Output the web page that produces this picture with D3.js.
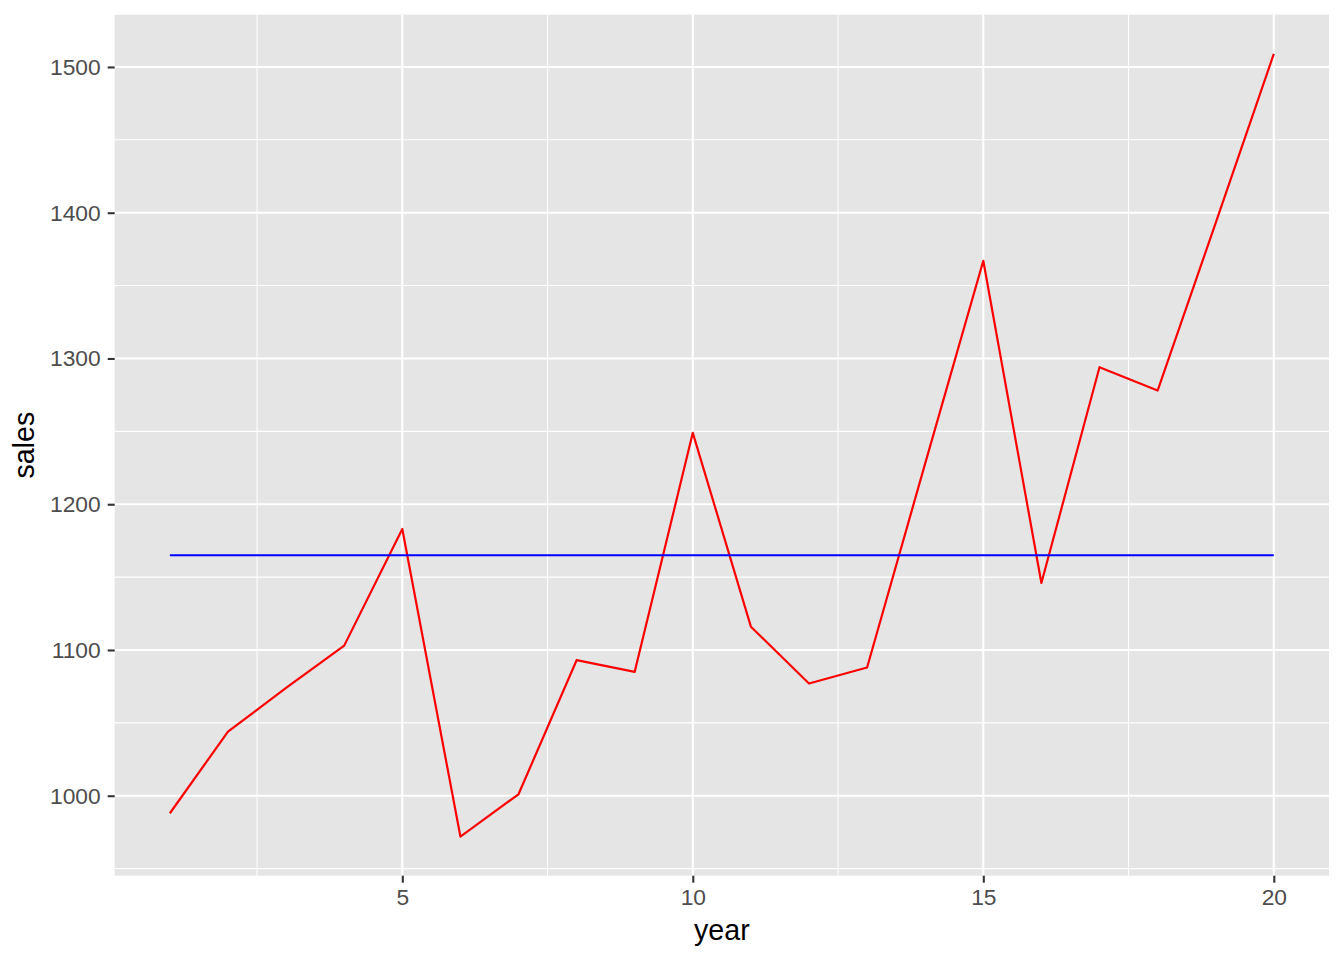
<!DOCTYPE html>
<html>
<head>
<meta charset="utf-8">
<script src="https://cdn.jsdelivr.net/npm/d3@7"></script>
<style>
  html, body { margin: 0; padding: 0; background: #fff; }
  svg { display: block; font-family: "Liberation Sans", Arial, Helvetica, sans-serif; }
</style>
</head>
<body>
<svg id="chart" width="1344" height="960"></svg>
<script>
// ---- data ----
const years = [1, 2, 3, 4, 5, 6, 7, 8, 9, 10, 11, 12, 13, 14, 15, 16, 17, 18, 19, 20];
const sales = [988, 1044, 1074, 1103, 1183, 972, 1001, 1093, 1085, 1249,
               1116, 1077, 1088, 1228, 1367, 1146, 1294, 1278, 1393, 1509];
const meanSales = 1165;
const xTicks = [5, 10, 15, 20];
const xMinor = [2.5, 7.5, 12.5, 17.5];
const yTicks = [1000, 1100, 1200, 1300, 1400, 1500];
const yMinor = [950, 1050, 1150, 1250, 1350, 1450];
const xLabel = "year";
const yLabel = "sales";

// ---- layout ----
const panel = { left: 114.7, right: 1329, top: 14.7, bottom: 875.7 };
const svg = d3.select("#chart");

const xExt = d3.extent(years);
const xPad = (xExt[1] - xExt[0]) * 0.05;
const x = d3.scaleLinear().domain([xExt[0] - xPad, xExt[1] + xPad]).range([panel.left, panel.right]);
const yExt = d3.extent(sales);
const yPad = (yExt[1] - yExt[0]) * 0.05;
const y = d3.scaleLinear().domain([yExt[0] - yPad, yExt[1] + yPad]).range([panel.bottom, panel.top]);

// panel background
svg.append("rect")
  .attr("x", panel.left).attr("y", panel.top)
  .attr("width", panel.right - panel.left).attr("height", panel.bottom - panel.top)
  .attr("fill", "#E5E5E5");

const grid = svg.append("g");
// minor grid
grid.selectAll(".ymin").data(yMinor).enter().append("line")
  .attr("x1", panel.left).attr("x2", panel.right)
  .attr("y1", d => y(d)).attr("y2", d => y(d))
  .attr("stroke", "#fff").attr("stroke-width", 1.05);
grid.selectAll(".xmin").data(xMinor).enter().append("line")
  .attr("y1", panel.top).attr("y2", panel.bottom)
  .attr("x1", d => x(d)).attr("x2", d => x(d))
  .attr("stroke", "#fff").attr("stroke-width", 1.05);
// major grid
grid.selectAll(".ymaj").data(yTicks).enter().append("line")
  .attr("x1", panel.left).attr("x2", panel.right)
  .attr("y1", d => y(d)).attr("y2", d => y(d))
  .attr("stroke", "#fff").attr("stroke-width", 2.1);
grid.selectAll(".xmaj").data(xTicks).enter().append("line")
  .attr("y1", panel.top).attr("y2", panel.bottom)
  .attr("x1", d => x(d)).attr("x2", d => x(d))
  .attr("stroke", "#fff").attr("stroke-width", 2.1);

// lines
const line = d3.line().x((d, i) => x(years[i])).y(d => y(d));
svg.append("path")
  .datum(sales)
  .attr("d", line)
  .attr("fill", "none")
  .attr("stroke", "#FF0000")
  .attr("stroke-width", 2.2)
  .attr("stroke-linejoin", "round");

svg.append("path")
  .datum(years.map(() => meanSales))
  .attr("d", line)
  .attr("fill", "none")
  .attr("stroke", "#0000FF")
  .attr("stroke-width", 2.2);

// axes
const tickLen = 7;
const xAxis = d3.axisBottom(x).tickValues(xTicks).tickSize(tickLen).tickPadding(6).tickFormat(d3.format("d"));
const gx = svg.append("g").attr("transform", `translate(0,${panel.bottom})`).call(xAxis);
gx.select(".domain").remove();
gx.selectAll(".tick line").attr("stroke", "#333333").attr("stroke-width", 2.1);
gx.selectAll(".tick text").attr("fill", "#4D4D4D").attr("font-size", 22.8)
  .attr("font-family", "Liberation Sans, Arial, sans-serif");

const yAxis = d3.axisLeft(y).tickValues(yTicks).tickSize(tickLen).tickPadding(7).tickFormat(d3.format("d"));
const gy = svg.append("g").attr("transform", `translate(${panel.left},0)`).call(yAxis);
gy.select(".domain").remove();
gy.selectAll(".tick line").attr("stroke", "#333333").attr("stroke-width", 2.1);
gy.selectAll(".tick text").attr("fill", "#4D4D4D").attr("font-size", 22.8)
  .attr("font-family", "Liberation Sans, Arial, sans-serif");

// axis titles
svg.append("text")
  .attr("x", (panel.left + panel.right) / 2).attr("y", 940)
  .attr("text-anchor", "middle")
  .attr("font-size", 28.6).attr("fill", "#000")
  .text(xLabel);
svg.append("text")
  .attr("transform", `translate(34,${(panel.top + panel.bottom) / 2}) rotate(-90)`)
  .attr("text-anchor", "middle")
  .attr("font-size", 28.6).attr("fill", "#000")
  .text(yLabel);
</script>
</body>
</html>
